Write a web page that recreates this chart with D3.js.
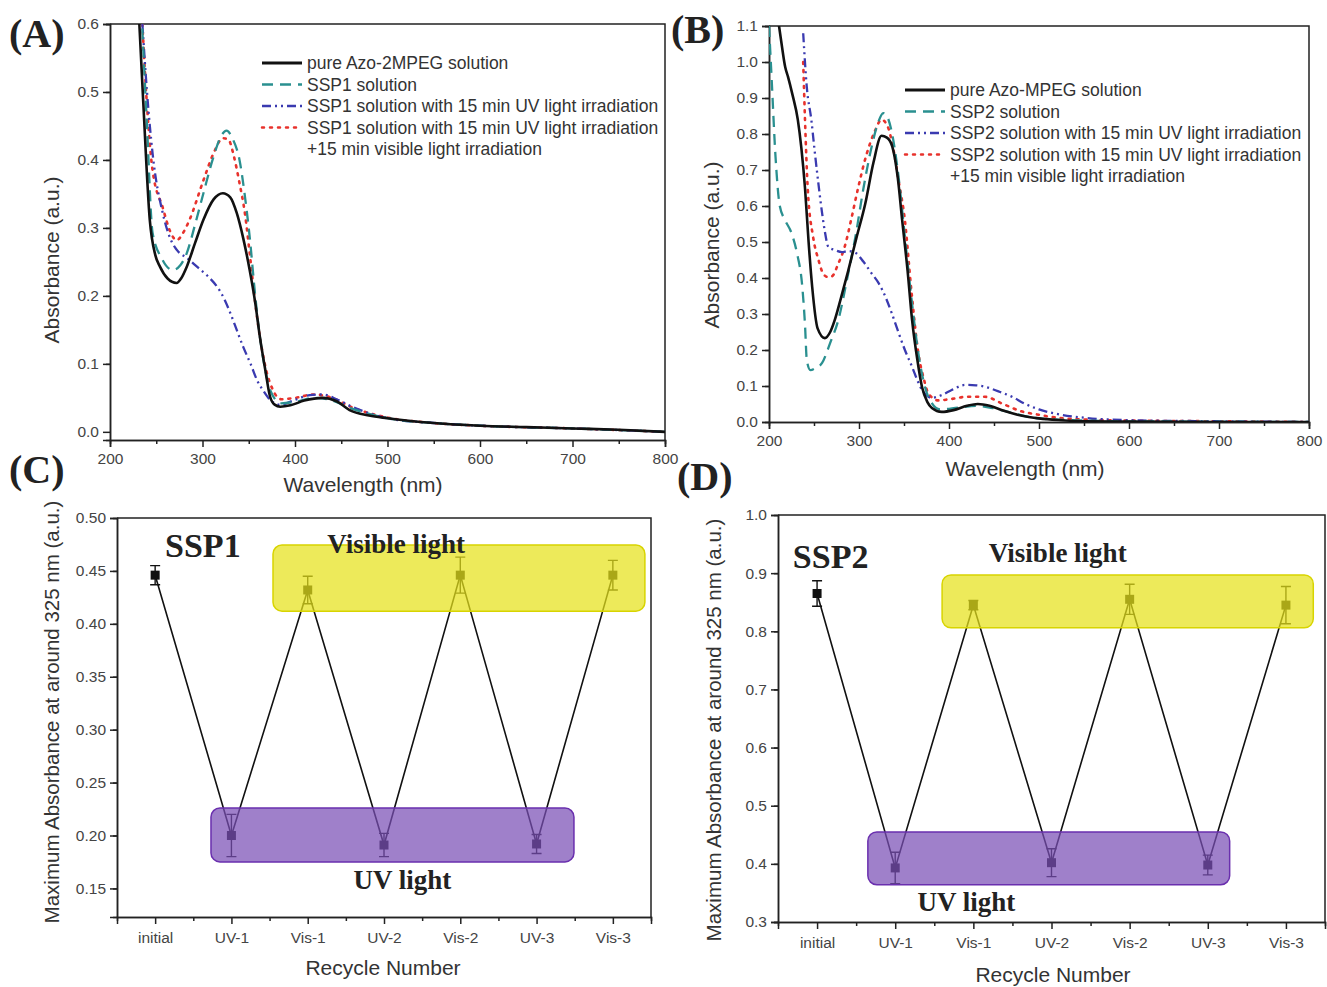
<!DOCTYPE html>
<html lang="en">
<head>
<meta charset="UTF-8">
<title>Azo photo-switching spectra</title>
<script src="https://d3js.org/d3.v7.min.js"></script>
<style>
  body { margin: 0; background: #fff; }
  svg text { font-family: "Liberation Sans", Arial, sans-serif; fill: #333; }
  .serif { font-family: "Liberation Serif", "Times New Roman", serif !important; font-weight: bold; fill: #222 !important; }
  .axis path, .axis line { stroke: #222; stroke-width: 1.5; }
  .axis text { font-size: 15.5px; fill: #444; }
</style>
</head>
<body>
<div id="chart"></div>
<script>
// ---- spectra, panel A (wavelength nm, absorbance) ----
var specA_pure = [[231,0.62],[236,0.484],[243,0.312],[249,0.26],[254,0.243],[262,0.226],[272,0.219],[277,0.226],[283,0.243],[292,0.278],[301,0.312],[312,0.342],[322,0.351],[330,0.345],[337,0.322],[344,0.285],[351,0.238],[357,0.19],[362,0.14],[368,0.09],[373,0.052],[378,0.04],[384,0.037],[395,0.039],[410,0.046],[430,0.05],[445,0.045],[459,0.032],[480,0.024],[500,0.02],[550,0.013],[600,0.009],[650,0.007],[700,0.005],[750,0.003],[800,0.0]];
var specA_ssp1 = [[234,0.62],[240,0.45],[246,0.293],[256,0.255],[268,0.238],[276,0.245],[283,0.263],[292,0.305],[301,0.351],[312,0.405],[320,0.435],[326,0.443],[333,0.43],[340,0.4],[346,0.345],[351,0.287],[357,0.2],[362,0.14],[368,0.09],[373,0.062],[385,0.042],[400,0.044],[420,0.05],[435,0.048],[460,0.035],[500,0.02],[550,0.013],[600,0.009],[700,0.005],[800,0.0]];
var specA_uv = [[235,0.6],[240,0.5],[246,0.41],[257,0.322],[265,0.285],[272,0.268],[284,0.255],[294,0.243],[305,0.23],[316,0.213],[323,0.197],[330,0.175],[337,0.15],[344,0.125],[352,0.1],[359,0.076],[366,0.06],[373,0.047],[384,0.04],[400,0.047],[416,0.054],[430,0.055],[445,0.048],[460,0.038],[500,0.02],[550,0.013],[600,0.009],[700,0.005],[800,0.0]];
var specA_vis = [[235,0.6],[240,0.48],[246,0.385],[257,0.33],[265,0.295],[272,0.282],[280,0.295],[286,0.312],[301,0.37],[312,0.41],[322,0.432],[328,0.43],[334,0.405],[340,0.366],[346,0.32],[351,0.263],[357,0.19],[362,0.14],[369,0.09],[376,0.062],[385,0.048],[400,0.05],[420,0.055],[440,0.05],[460,0.037],[500,0.021],[550,0.013],[600,0.009],[700,0.005],[800,0.0]];

// ---- spectra, panel B ----
var specB_pure = [[210,1.12],[214,1.05],[218,0.986],[221,0.96],[226,0.91],[232,0.84],[236,0.76],[240,0.65],[244,0.5],[248,0.375],[254,0.26],[262,0.233],[268,0.25],[273,0.283],[280,0.345],[288,0.42],[297,0.51],[307,0.607],[316,0.72],[325,0.795],[331,0.79],[337,0.765],[343,0.68],[348,0.56],[354,0.42],[359,0.283],[365,0.17],[370,0.097],[376,0.055],[381,0.039],[392,0.028],[405,0.033],[420,0.045],[432,0.05],[445,0.045],[460,0.032],[480,0.018],[500,0.01],[525,0.005],[550,0.002],[600,0.001],[700,0.0],[800,0.0]];
var specB_ssp2 = [[200,1.1],[203,0.95],[207,0.747],[212,0.6],[218,0.56],[225,0.525],[231,0.47],[237,0.375],[240,0.27],[242,0.172],[246,0.144],[252,0.15],[259,0.164],[268,0.22],[277,0.283],[287,0.4],[296,0.514],[305,0.65],[314,0.764],[321,0.83],[327,0.858],[331,0.85],[336,0.81],[343,0.7],[351,0.514],[358,0.35],[366,0.19],[372,0.11],[377,0.07],[390,0.035],[410,0.04],[430,0.045],[450,0.038],[470,0.025],[500,0.01],[550,0.004],[600,0.002],[700,0.001],[800,0.0]];
var specB_uv = [[238,1.08],[242,0.93],[247,0.84],[251,0.747],[255,0.66],[259,0.58],[262,0.53],[266,0.486],[273,0.478],[281,0.472],[288,0.475],[296,0.47],[305,0.445],[314,0.413],[322,0.385],[329,0.35],[336,0.305],[343,0.255],[351,0.2],[359,0.153],[365,0.115],[370,0.089],[381,0.067],[392,0.075],[403,0.089],[418,0.103],[430,0.102],[440,0.098],[455,0.085],[470,0.07],[485,0.05],[500,0.035],[525,0.02],[550,0.012],[600,0.005],[700,0.002],[800,0.0]];
var specB_vis = [[238,1.0],[240,0.84],[243,0.65],[249,0.514],[255,0.45],[260,0.413],[265,0.403],[270,0.405],[277,0.44],[284,0.486],[292,0.57],[299,0.65],[308,0.74],[318,0.81],[325,0.84],[332,0.82],[338,0.76],[344,0.67],[351,0.56],[358,0.37],[366,0.19],[372,0.12],[377,0.08],[388,0.06],[400,0.063],[420,0.07],[440,0.07],[460,0.05],[480,0.03],[500,0.02],[520,0.012],[550,0.007],[600,0.004],[700,0.002],[800,0.0]];

var legendA = ["pure Azo-2MPEG solution", "SSP1 solution", "SSP1 solution with 15 min UV light irradiation", "SSP1 solution with 15 min UV light irradiation", "+15 min visible light irradiation"];
var legendB = ["pure Azo-MPEG solution", "SSP2 solution", "SSP2 solution with 15 min UV light irradiation", "SSP2 solution with 15 min UV light irradiation", " +15 min visible light irradiation"];

// ---- recycle data, panels C and D ----
var cycles = ["initial", "UV-1", "Vis-1", "UV-2", "Vis-2", "UV-3", "Vis-3"];
var absC = [0.446, 0.200, 0.432, 0.191, 0.446, 0.192, 0.446];
var errC = [0.009, 0.020, 0.013, 0.011, 0.017, 0.009, 0.014];
var absD = [0.865, 0.393, 0.845, 0.402, 0.855, 0.398, 0.845];
var errD = [0.022, 0.027, 0.008, 0.024, 0.026, 0.017, 0.032];

// series styles
var styles = [
  {color: "#111", dash: null, width: 2.6},
  {color: "#2a9090", dash: "11,7", width: 2.3},
  {color: "#3a3ab0", dash: "9,4,2,4,2,4", width: 2.3},
  {color: "#e8322c", dash: "2,6", width: 2.6}
];

var W = 1327, H = 987;
var svg = d3.select("#chart").append("svg").attr("width", W).attr("height", H);

function minorTicks(lo, hi, step) {
  return d3.range(Math.round(lo / step), Math.round(hi / step) + 1).map(function(i) { return +(i * step).toFixed(4); });
}

function drawAxes(x, y, opt) {
  var g = svg.append("g");
  var x0 = x.range()[0], x1 = x.range()[1], y0 = y.range()[0], y1 = y.range()[1];
  // frame (top + right)
  g.append("path").attr("d", "M" + x0 + "," + y1 + "H" + x1 + "V" + y0)
    .attr("fill", "none").attr("stroke", "#222").attr("stroke-width", 1.5);
  // minor ticks
  g.append("g").attr("class", "axis").attr("transform", "translate(0," + y0 + ")")
    .call(d3.axisBottom(x).tickValues(opt.xMinor).tickSize(4).tickFormat(""));
  g.append("g").attr("class", "axis").attr("transform", "translate(" + x0 + ",0)")
    .call(d3.axisLeft(y).tickValues(opt.yMinor).tickSize(4).tickFormat(""));
  // major ticks
  g.append("g").attr("class", "axis").attr("transform", "translate(0," + y0 + ")")
    .call(d3.axisBottom(x).tickValues(opt.xMajor).tickSize(7).tickPadding(opt.xPad || 6).tickFormat(opt.xFormat));
  g.append("g").attr("class", "axis").attr("transform", "translate(" + x0 + ",0)")
    .call(d3.axisLeft(y).tickValues(opt.yMajor).tickSize(7).tickPadding(4).tickFormat(opt.yFormat));
  // titles
  svg.append("text").attr("x", opt.xtPos[0]).attr("y", opt.xtPos[1]).attr("text-anchor", "middle")
    .style("font-size", "21px").text(opt.xTitle);
  svg.append("text").attr("transform", "translate(" + opt.ytPos[0] + "," + opt.ytPos[1] + ") rotate(-90)")
    .attr("text-anchor", "middle").style("font-size", (opt.ytSize || 21) + "px").text(opt.yTitle);
}

function panelLabel(txt, px, py) {
  svg.append("text").attr("class", "serif").attr("x", px).attr("y", py)
    .style("font-size", "40px").text(txt);
}

function spectraPanel(id, x, y, series, legend, legPos, opt) {
  drawAxes(x, y, opt);
  svg.append("clipPath").attr("id", "clip" + id).append("rect")
    .attr("x", x.range()[0]).attr("y", y.range()[1])
    .attr("width", x.range()[1] - x.range()[0]).attr("height", y.range()[0] - y.range()[1]);
  var line = d3.line().x(function(d) { return x(d[0]); }).y(function(d) { return y(d[1]); })
    .curve(d3.curveMonotoneX);
  var g = svg.append("g").attr("clip-path", "url(#clip" + id + ")");
  // draw in reverse so the black curve ends on top
  [3, 2, 1, 0].forEach(function(i) {
    g.append("path").datum(series[i]).attr("d", line).attr("fill", "none")
      .attr("stroke", styles[i].color).attr("stroke-width", styles[i].width)
      .attr("stroke-dasharray", styles[i].dash)
      .attr("stroke-linecap", i === 3 ? "round" : "butt");
  });
  // legend
  var lg = svg.append("g").attr("transform", "translate(" + legPos[0] + "," + legPos[1] + ")");
  legend.forEach(function(t, i) {
    var yy = i * 21.5;
    if (i < 4) {
      lg.append("line").attr("x1", 0).attr("x2", 40).attr("y1", yy).attr("y2", yy)
        .attr("stroke", styles[i].color).attr("stroke-width", i === 0 ? 3 : 2.5)
        .attr("stroke-dasharray", styles[i].dash).attr("stroke-linecap", i === 3 ? "round" : "butt");
    }
    lg.append("text").attr("x", 45).attr("y", yy + 6).style("font-size", "17.5px").text(t);
  });
}

// ---- Panel A ----
var xA = d3.scaleLinear().domain([200, 800]).range([110, 665]);
var yA = d3.scaleLinear().domain([-0.012, 0.6]).range([440, 24]);
spectraPanel("A", xA, yA, [specA_pure, specA_ssp1, specA_uv, specA_vis], legendA, [262, 63], {
  xMajor: d3.range(200, 801, 100), xMinor: d3.range(250, 800, 100), xFormat: d3.format("d"),
  yMajor: minorTicks(0, 0.6, 0.1), yMinor: minorTicks(0.05, 0.55, 0.1), yFormat: d3.format(".1f"),
  xTitle: "Wavelength (nm)", xtPos: [363, 492], yTitle: "Absorbance (a.u.)", ytPos: [59, 260]
});
panelLabel("(A)", 9, 47);

// ---- Panel B ----
var xB = d3.scaleLinear().domain([200, 800]).range([769, 1309]);
var yB = d3.scaleLinear().domain([0, 1.1]).range([422, 26]);
spectraPanel("B", xB, yB, [specB_pure, specB_ssp2, specB_uv, specB_vis], legendB, [905, 90], {
  xMajor: d3.range(200, 801, 100), xMinor: d3.range(250, 800, 100), xFormat: d3.format("d"),
  yMajor: minorTicks(0, 1.1, 0.1), yMinor: minorTicks(0.05, 1.05, 0.1), yFormat: d3.format(".1f"),
  xTitle: "Wavelength (nm)", xtPos: [1025, 476], yTitle: "Absorbance (a.u.)", ytPos: [719, 245]
});
panelLabel("(B)", 671, 43);

// ---- recycle panels ----
function cyclePanel(x, y, vals, errs, boxes, notes, opt) {
  drawAxes(x, y, opt);
  var g = svg.append("g");
  var line = d3.line().x(function(d, i) { return x(i); }).y(function(d) { return y(d); });
  g.append("path").datum(vals).attr("d", line).attr("fill", "none")
    .attr("stroke", "#111").attr("stroke-width", 1.6);
  vals.forEach(function(v, i) {
    var e = errs[i], cx = x(i);
    g.append("path")
      .attr("d", "M" + (cx - 5) + "," + y(v + e) + "H" + (cx + 5) + "M" + cx + "," + y(v + e) + "V" + y(v - e) +
        "M" + (cx - 5) + "," + y(v - e) + "H" + (cx + 5))
      .attr("stroke", "#111").attr("stroke-width", 1.4).attr("fill", "none");
    g.append("rect").attr("x", cx - 4.5).attr("y", y(v) - 4.5).attr("width", 9).attr("height", 9).attr("fill", "#111");
  });
  // highlight boxes drawn over the points
  boxes.forEach(function(b) {
    svg.append("rect").attr("x", x(b.x0)).attr("y", y(b.y1))
      .attr("width", x(b.x1) - x(b.x0)).attr("height", y(b.y0) - y(b.y1))
      .attr("rx", 9).attr("ry", 9)
      .attr("fill", b.fill).attr("fill-opacity", 0.72).attr("stroke", b.stroke).attr("stroke-width", 1.5);
  });
  notes.forEach(function(n) {
    svg.append("text").attr("class", "serif").attr("x", x(n.x)).attr("y", y(n.y))
      .attr("text-anchor", n.anchor).style("font-size", n.size + "px").text(n.text);
  });
}

var yellow = {fill: "#e6e21a", stroke: "#d8d400"};
var purple = {fill: "#7a4fb5", stroke: "#6a2fae"};

// ---- Panel C ----
var xC = d3.scaleLinear().domain([-0.5, 6.5]).range([117, 651]);
var yC = d3.scaleLinear().domain([0.123, 0.5]).range([917, 518]);
cyclePanel(xC, yC, absC, errC, [
  Object.assign({x0: 1.545, x1: 6.42, y0: 0.412, y1: 0.4745}, yellow),
  Object.assign({x0: 0.732, x1: 5.49, y0: 0.175, y1: 0.226}, purple)
], [
  {text: "SSP1", x: 0.13, y: 0.463, anchor: "start", size: 34},
  {text: "Visible light", x: 3.16, y: 0.467, anchor: "middle", size: 27},
  {text: "UV light", x: 3.24, y: 0.149, anchor: "middle", size: 27}
], {
  xMajor: d3.range(0, 7), xMinor: d3.range(0.5, 6, 1), xFormat: function(d) { return cycles[d]; }, xPad: 8,
  yMajor: minorTicks(0.15, 0.5, 0.05), yMinor: minorTicks(0.125, 0.475, 0.05), yFormat: d3.format(".2f"),
  xTitle: "Recycle Number", xtPos: [383, 975], yTitle: "Maximum Absorbance at around 325 nm (a.u.)", ytPos: [59, 712], ytSize: 20.5
});
panelLabel("(C)", 9, 483);

// ---- Panel D ----
var xD = d3.scaleLinear().domain([-0.5, 6.5]).range([778, 1325]);
var yD = d3.scaleLinear().domain([0.3, 1.0]).range([922, 515]);
cyclePanel(xD, yD, absD, errD, [
  Object.assign({x0: 1.60, x1: 6.35, y0: 0.806, y1: 0.897}, yellow),
  Object.assign({x0: 0.65, x1: 5.28, y0: 0.364, y1: 0.455}, purple)
], [
  {text: "SSP2", x: -0.31, y: 0.909, anchor: "start", size: 34},
  {text: "Visible light", x: 3.08, y: 0.919, anchor: "middle", size: 27},
  {text: "UV light", x: 1.91, y: 0.319, anchor: "middle", size: 27}
], {
  xMajor: d3.range(0, 7), xMinor: d3.range(0.5, 6, 1), xFormat: function(d) { return cycles[d]; }, xPad: 8,
  yMajor: minorTicks(0.3, 1.0, 0.1), yMinor: minorTicks(0.35, 0.95, 0.1), yFormat: d3.format(".1f"),
  xTitle: "Recycle Number", xtPos: [1053, 982], yTitle: "Maximum Absorbance at around 325 nm (a.u.)", ytPos: [721, 730], ytSize: 20.5
});
panelLabel("(D)", 677, 490);
</script>
</body>
</html>
